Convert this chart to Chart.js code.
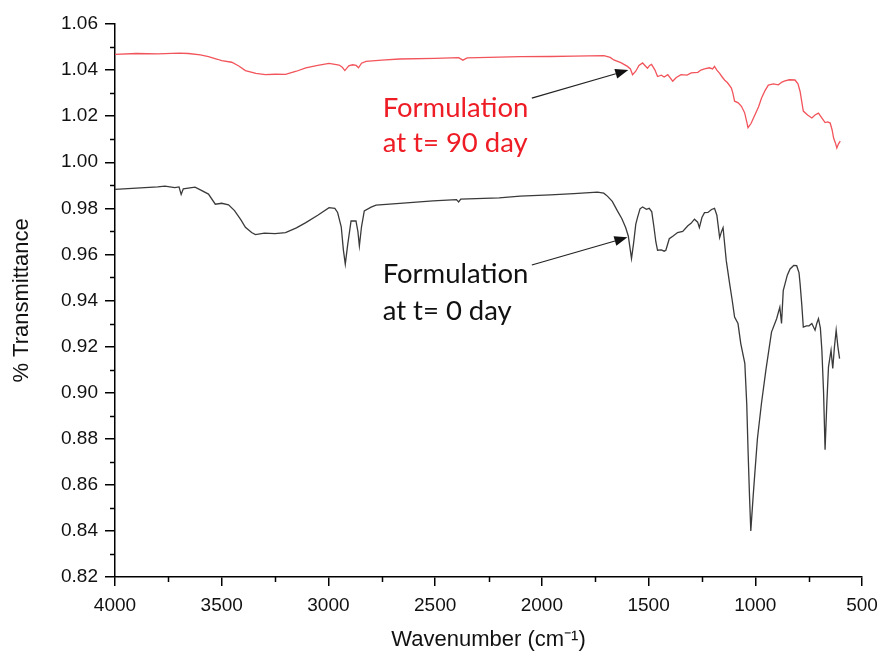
<!DOCTYPE html>
<html>
<head>
<meta charset="utf-8">
<script src="https://cdn.jsdelivr.net/npm/chart.js@4.4.1/dist/chart.umd.min.js"></script>
<style>
  html, body { margin: 0; padding: 0; background: #fff; }
  canvas { display: block; }
</style>
</head>
<body>
<canvas id="ftir" width="877" height="660"></canvas>
<script>
/* ── Data ───────────────────────────────────────────────────────────── */
const redWave = [4000, 3900, 3800, 3700, 3656, 3600, 3562, 3520, 3500, 3453, 3420, 3389, 3340, 3295, 3250, 3201, 3150, 3106, 3050, 2997, 2950, 2935, 2923, 2905, 2887, 2870, 2859, 2845, 2824, 2750, 2667, 2500, 2390, 2370, 2350, 2200, 2100, 1960, 1850, 1709, 1680, 1663, 1630, 1599, 1585, 1575, 1560, 1545, 1528, 1515, 1505, 1495, 1486, 1470, 1458, 1440, 1427, 1410, 1387, 1370, 1348, 1320, 1300, 1269, 1255, 1238, 1215, 1200, 1191, 1180, 1167, 1155, 1144, 1130, 1112, 1105, 1097, 1080, 1065, 1050, 1040, 1034, 1020, 1002, 985, 971, 955, 939, 915, 892, 875, 861, 840, 814, 800, 790, 780, 775, 755, 735, 720, 704, 690, 673, 660, 649, 640, 633, 625, 618, 610, 602];
const redT = [1.0468, 1.0472, 1.0470, 1.0474, 1.0472, 1.0466, 1.0458, 1.0447, 1.0441, 1.0434, 1.0418, 1.0398, 1.0386, 1.0380, 1.0382, 1.0381, 1.0395, 1.0410, 1.0420, 1.0429, 1.0422, 1.0412, 1.0398, 1.0418, 1.0423, 1.0420, 1.0410, 1.0430, 1.0438, 1.0443, 1.0448, 1.0451, 1.0454, 1.0443, 1.0453, 1.0456, 1.0458, 1.0459, 1.0461, 1.0463, 1.0455, 1.0444, 1.0432, 1.0416, 1.0405, 1.0380, 1.0395, 1.0420, 1.0431, 1.0418, 1.0408, 1.0420, 1.0425, 1.0400, 1.0372, 1.0378, 1.0370, 1.0380, 1.0352, 1.0368, 1.0380, 1.0378, 1.0388, 1.0390, 1.0400, 1.0405, 1.0410, 1.0405, 1.0416, 1.0400, 1.0386, 1.0370, 1.0357, 1.0345, 1.0322, 1.0300, 1.0265, 1.0258, 1.0243, 1.0215, 1.0175, 1.0150, 1.0168, 1.0205, 1.0240, 1.0278, 1.0310, 1.0335, 1.0340, 1.0336, 1.0348, 1.0353, 1.0358, 1.0357, 1.0340, 1.0307, 1.0250, 1.0222, 1.0205, 1.0192, 1.0205, 1.0213, 1.0195, 1.0172, 1.0175, 1.0170, 1.0140, 1.0105, 1.0085, 1.0062, 1.0080, 1.0092];

const blackWave = [4000, 3900, 3800, 3766, 3720, 3700, 3690, 3680, 3625, 3600, 3562, 3530, 3500, 3468, 3440, 3410, 3389, 3360, 3342, 3300, 3250, 3201, 3150, 3106, 3050, 2997, 2970, 2957, 2940, 2930, 2921, 2910, 2894, 2871, 2862, 2855, 2845, 2832, 2800, 2777, 2650, 2510, 2400, 2390, 2380, 2200, 2102, 1960, 1850, 1740, 1710, 1693, 1670, 1646, 1625, 1607, 1595, 1580, 1570, 1560, 1552, 1540, 1528, 1510, 1497, 1485, 1475, 1466, 1458, 1440, 1427, 1419, 1403, 1385, 1364, 1340, 1316, 1301, 1285, 1270, 1262, 1250, 1238, 1222, 1205, 1191, 1180, 1167, 1158, 1151, 1136, 1120, 1108, 1097, 1081, 1068, 1049, 1040, 1034, 1027, 1021, 1010, 1002, 990, 971, 950, 924, 900, 885, 877, 869, 850, 837, 820, 806, 795, 790, 782, 775, 760, 748, 735, 720, 712, 704, 695, 688, 680, 673, 665, 657, 645, 637, 629, 621, 613, 605];
const blackT = [0.9882, 0.9888, 0.9893, 0.9896, 0.9890, 0.9893, 0.9860, 0.9885, 0.9892, 0.9880, 0.9862, 0.9818, 0.9822, 0.9815, 0.9790, 0.9750, 0.9718, 0.9695, 0.9686, 0.9692, 0.9690, 0.9695, 0.9715, 0.9738, 0.9770, 0.9803, 0.9800, 0.9782, 0.9720, 0.9620, 0.9558, 0.9640, 0.9745, 0.9745, 0.9700, 0.9637, 0.9720, 0.9789, 0.9805, 0.9814, 0.9823, 0.9832, 0.9838, 0.9828, 0.9840, 0.9845, 0.9853, 0.9858, 0.9864, 0.9870, 0.9866, 0.9853, 0.9830, 0.9789, 0.9755, 0.9716, 0.9680, 0.9582, 0.9650, 0.9730, 0.9760, 0.9798, 0.9806, 0.9796, 0.9800, 0.9785, 0.9720, 0.9655, 0.9618, 0.9620, 0.9614, 0.9618, 0.9668, 0.9680, 0.9695, 0.9700, 0.9724, 0.9735, 0.9753, 0.9740, 0.9716, 0.9760, 0.9781, 0.9782, 0.9795, 0.9800, 0.9770, 0.9673, 0.9700, 0.9716, 0.9573, 0.9472, 0.9400, 0.9328, 0.9300, 0.9213, 0.9127, 0.8950, 0.8752, 0.8550, 0.8400, 0.8550, 0.8652, 0.8800, 0.8954, 0.9100, 0.9263, 0.9321, 0.9371, 0.9300, 0.9443, 0.9510, 0.9537, 0.9552, 0.9551, 0.9520, 0.9472, 0.9380, 0.9285, 0.9290, 0.9290, 0.9300, 0.9271, 0.9300, 0.9321, 0.9280, 0.9184, 0.9000, 0.8752, 0.8950, 0.9112, 0.9184, 0.9105, 0.9200, 0.9271, 0.9200, 0.9148];

const xMajorTicks = [4000, 3500, 3000, 2500, 2000, 1500, 1000, 500];
const xMinorTicks = [3750, 3250, 2750, 2250, 1750, 1250, 750];
const yMinorTicks = [0.83, 0.85, 0.87, 0.89, 0.91, 0.93, 0.95, 0.97, 0.99, 1.01, 1.03, 1.05];

/* annotation labels + arrows, in data units: [wavenumber, %T] */
const labelRed   = { lines: ['Formulation', 'at t= 90 day'], at: [2746, 1.0198], step: 0.0152, color: '#ee1c25' };
const labelBlack = { lines: ['Formulation', 'at t= 0 day'],  at: [2746, 0.9475], step: 0.0160, color: '#111' };
const arrowRed   = { from: [2047, 1.0278], to: [1595, 1.0400] };
const arrowBlack = { from: [2047, 0.9554], to: [1599, 0.9674] };

const toPoints = (xs, ys) => xs.map((x, i) => ({ x: x, y: ys[i] }));

const TICK_FONT = { family: '"Liberation Sans", Arial, sans-serif', size: 19 };
const TITLE_FONT = { family: '"Liberation Sans", Arial, sans-serif', size: 22 };
const NOTE_FONT = 'Lato, "Open Sans", sans-serif';

/* minor ticks, callouts and arrows */
const extras = {
  id: 'ftir-extras',
  afterDraw(chart) {
    const ctx = chart.ctx;
    const xs = chart.scales.x, ys = chart.scales.y;
    const area = chart.chartArea;

    ctx.save();
    ctx.strokeStyle = '#000';
    ctx.lineWidth = 1.5;
    xMinorTicks.forEach(v => {
      const px = Math.round(xs.getPixelForValue(v)) + 0.5;
      ctx.beginPath(); ctx.moveTo(px, area.bottom); ctx.lineTo(px, area.bottom + 5); ctx.stroke();
    });
    yMinorTicks.forEach(v => {
      const py = Math.round(ys.getPixelForValue(v)) + 0.5;
      ctx.beginPath(); ctx.moveTo(area.left, py); ctx.lineTo(area.left - 5, py); ctx.stroke();
    });

    /* callout text */
    [labelRed, labelBlack].forEach(lab => {
      ctx.fillStyle = lab.color;
      ctx.textAlign = 'left';
      ctx.textBaseline = 'alphabetic';
      ctx.font = '100px ' + NOTE_FONT;
      const size = 100 * 146 / ctx.measureText(lab.lines[0]).width;
      ctx.font = size.toFixed(1) + 'px ' + NOTE_FONT;
      lab.lines.forEach((t, i) => {
        ctx.fillText(t, xs.getPixelForValue(lab.at[0]), ys.getPixelForValue(lab.at[1] - i * lab.step));
      });
    });

    /* arrows */
    ctx.strokeStyle = '#222';
    ctx.fillStyle = '#111';
    ctx.lineWidth = 1.2;
    [arrowRed, arrowBlack].forEach(a => {
      const x1 = xs.getPixelForValue(a.from[0]), y1 = ys.getPixelForValue(a.from[1]);
      const x2 = xs.getPixelForValue(a.to[0]),   y2 = ys.getPixelForValue(a.to[1]);
      const ang = Math.atan2(y2 - y1, x2 - x1);
      const head = 13, half = 5;
      const bx = x2 - head * Math.cos(ang), by = y2 - head * Math.sin(ang);
      ctx.beginPath(); ctx.moveTo(x1, y1); ctx.lineTo(bx, by); ctx.stroke();
      ctx.beginPath();
      ctx.moveTo(x2, y2);
      ctx.lineTo(bx + half * Math.sin(ang), by - half * Math.cos(ang));
      ctx.lineTo(bx - half * Math.sin(ang), by + half * Math.cos(ang));
      ctx.closePath();
      ctx.fill();
    });
    ctx.restore();
  },
};

new Chart(document.getElementById('ftir'), {
  type: 'line',
  data: {
    datasets: [
      {
        label: 'Formulation at t= 90 day',
        data: toPoints(redWave, redT),
        borderColor: '#f2545b',
        borderWidth: 1.3,
        pointRadius: 0,
        tension: 0,
      },
      {
        label: 'Formulation at t= 0 day',
        data: toPoints(blackWave, blackT),
        borderColor: '#3a3a3a',
        borderWidth: 1.3,
        pointRadius: 0,
        tension: 0,
      },
    ],
  },
  options: {
    responsive: false,
    animation: false,
    layout: { padding: { top: 24, right: 15, left: 0, bottom: 0 } },
    plugins: { legend: { display: false }, tooltip: { enabled: false } },
    scales: {
      x: {
        type: 'linear',
        reverse: true,
        min: 500,
        max: 4000,
        afterFit: s => { s.height = 83; s.paddingLeft = 0; s.paddingRight = 0; },
        afterBuildTicks: s => { s.ticks = xMajorTicks.map(v => ({ value: v })); },
        ticks: { color: '#111', font: TICK_FONT, padding: 8, maxRotation: 0, autoSkip: false, callback: v => String(v) },
        grid: { display: true, drawOnChartArea: false, drawTicks: true, tickLength: 9, color: '#000', lineWidth: 1.5 },
        border: { display: true, color: '#000', width: 1.5 },
        title: { display: true, text: 'Wavenumber (cm\u207B\u00B9)', color: '#111', font: TITLE_FONT, padding: { top: 0, bottom: 7 } },
      },
      y: {
        min: 0.82,
        max: 1.06,
        afterFit: s => { s.width = 115; s.paddingTop = 0; s.paddingBottom = 0; },
        ticks: { stepSize: 0.02, color: '#111', font: TICK_FONT, padding: 7, callback: v => v.toFixed(2) },
        grid: { display: true, drawOnChartArea: false, drawTicks: true, tickLength: 10, color: '#000', lineWidth: 1.5 },
        border: { display: true, color: '#000', width: 1.5 },
        title: { display: true, text: '% Transmittance', color: '#111', font: TITLE_FONT, padding: { top: 9, bottom: 0 } },
      },
    },
  },
  plugins: [extras],
});
</script>
</body>
</html>
